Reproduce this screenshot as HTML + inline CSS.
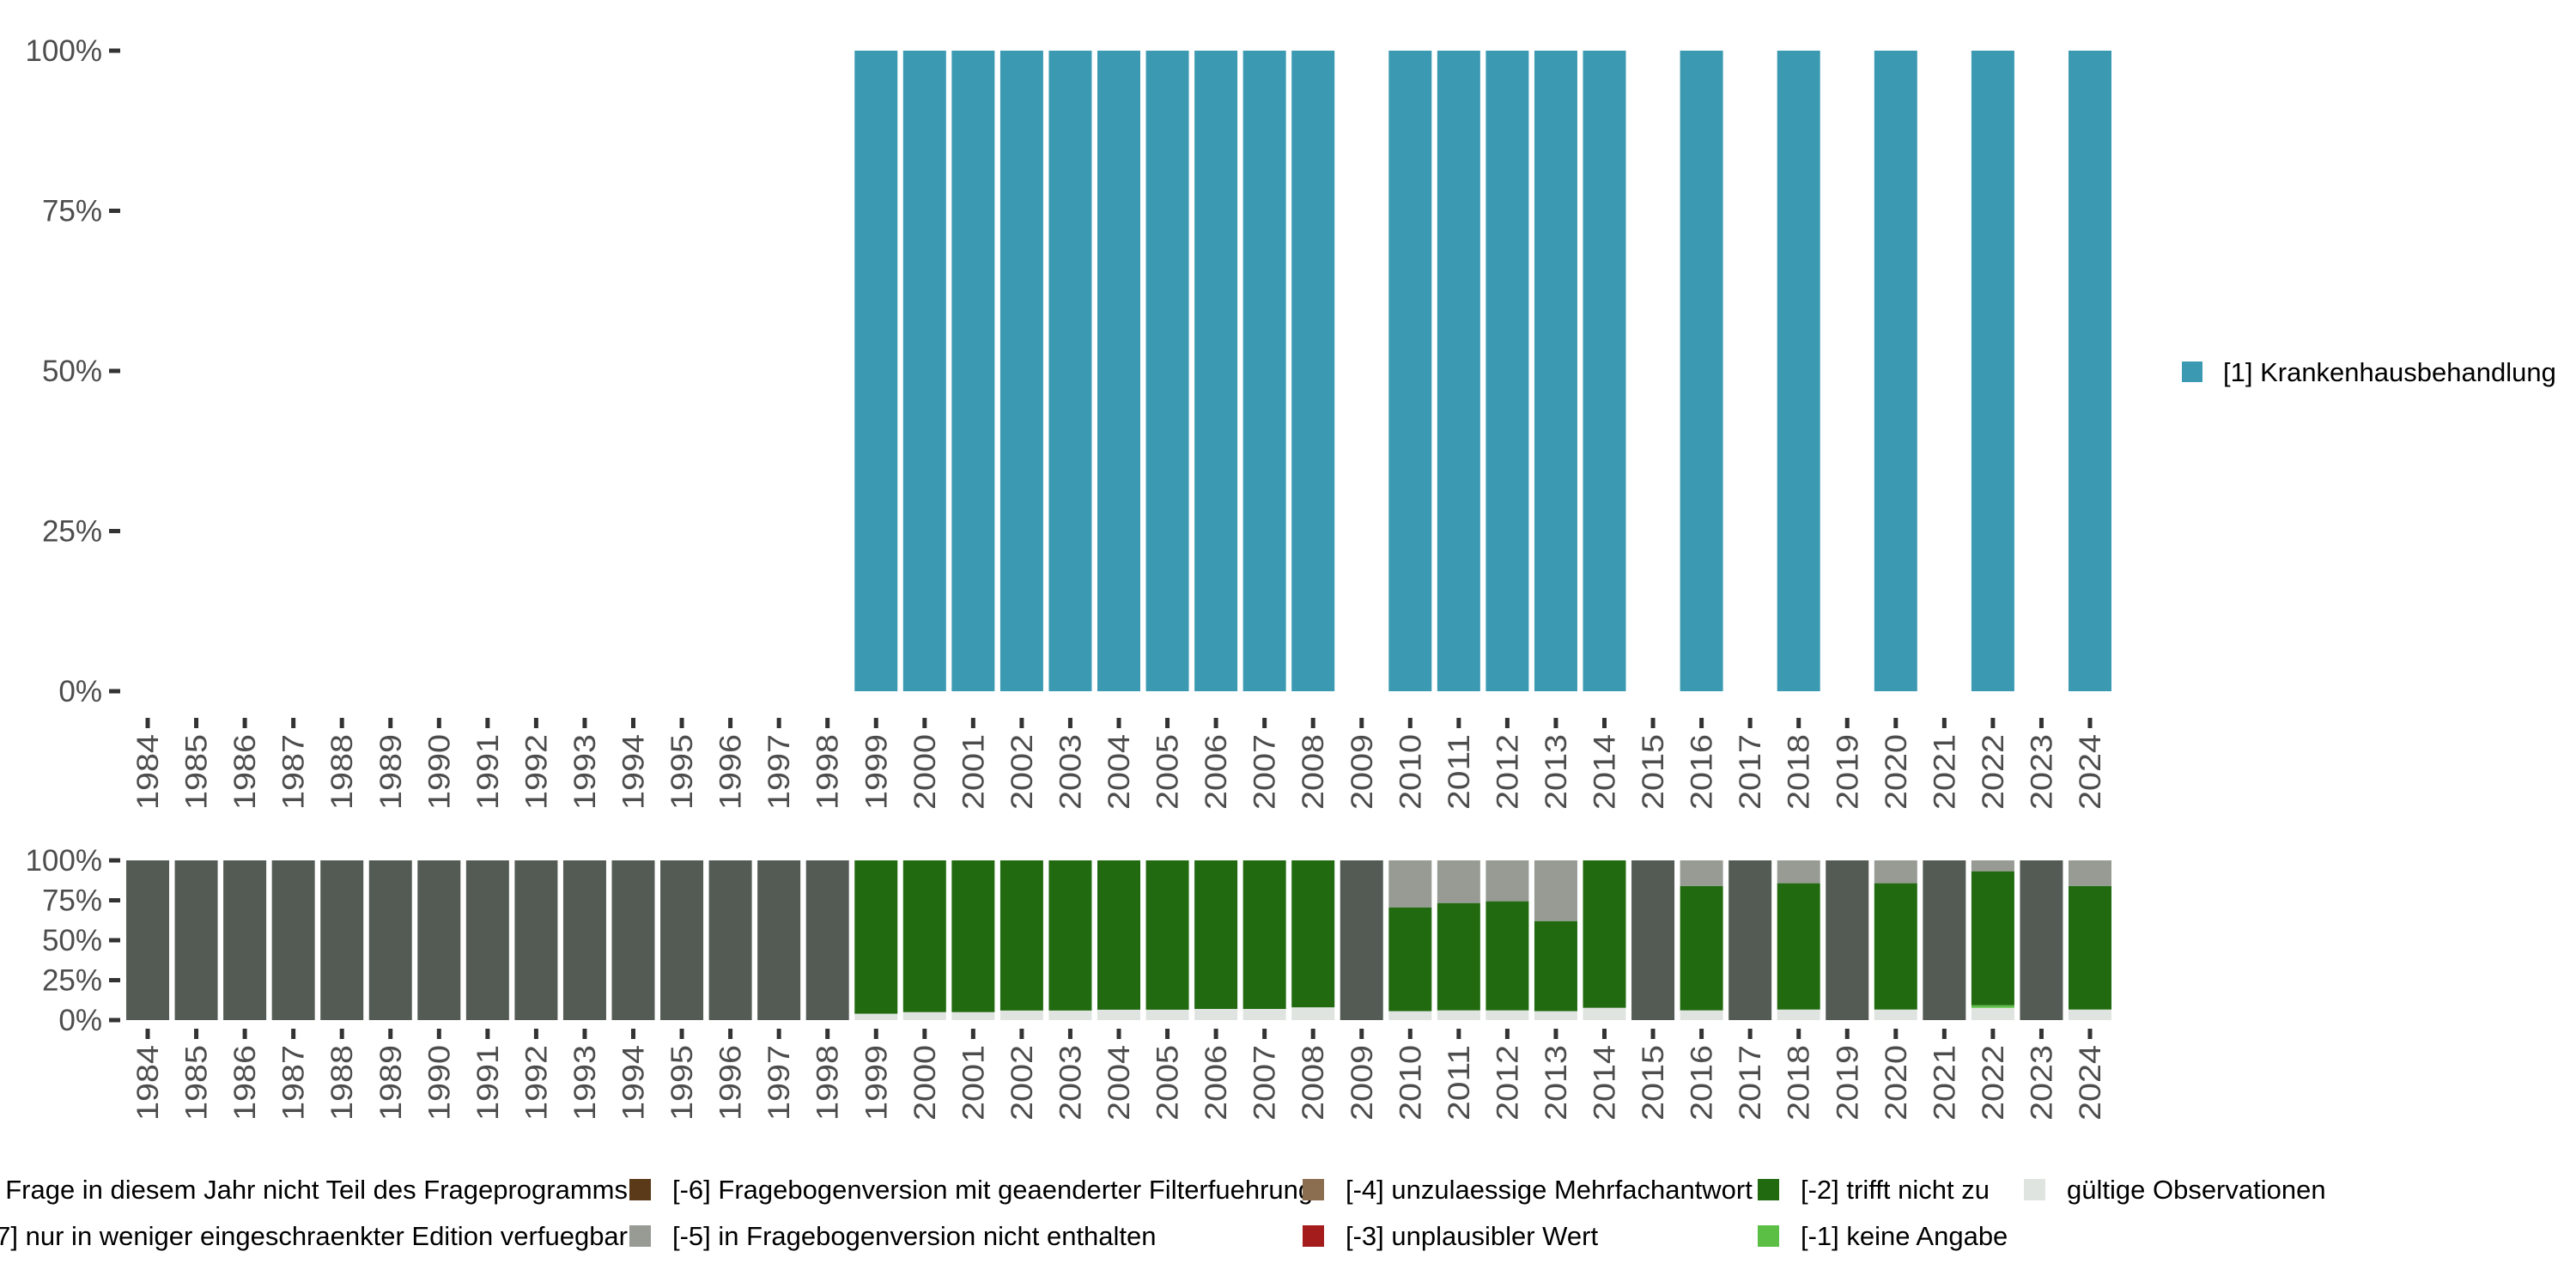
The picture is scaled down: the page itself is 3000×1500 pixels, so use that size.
<!DOCTYPE html>
<html><head><meta charset="utf-8"><style>
html,body{margin:0;padding:0;background:#fff;}
svg{display:block;font-family:"Liberation Sans",sans-serif;}
</style></head><body>
<svg id="c" width="3000" height="1500" viewBox="0 0 3000 1500"></svg>
<script>
const years=[];for(let y=1984;y<=2024;y++)years.push(y);
const topValues=[0,0,0,0,0,0,0,0,0,0,0,0,0,0,0,100,100,100,100,100,100,100,100,100,100,0,100,100,100,100,100,0,100,0,100,0,100,0,100,0,100];
const notInProgram=[100,100,100,100,100,100,100,100,100,100,100,100,100,100,100,0,0,0,0,0,0,0,0,0,0,100,0,0,0,0,0,100,0,100,0,100,0,100,0,100,0];
const validObs=[0,0,0,0,0,0,0,0,0,0,0,0,0,0,0,4,5,5,6,6,6.5,6.5,7,7,8,0,5.6,6.1,6.1,5.6,7.7,0,6.1,0,6.6,0,6.6,0,7.7,0,6.6];
const noAnswer=[0,0,0,0,0,0,0,0,0,0,0,0,0,0,0,0,0,0,0,0,0,0,0,0,0,0,0,0,0,0,0,0,0,0,0,0,0,0,1.6,0,0];
const notInVersion=[0,0,0,0,0,0,0,0,0,0,0,0,0,0,0,0,0,0,0,0,0,0,0,0,0,0,29.4,26.7,25.6,38,0,0,16,0,14.3,0,14.3,0,6.8,0,16];
const yTicks=[0,25,50,75,100];
const yTickLabels=["0%","25%","50%","75%","100%"];
const legendTop=["[1] Krankenhausbehandlung"];
const svg=document.getElementById('c');const NS='http://www.w3.org/2000/svg';
function mk(t,a,p){const e=document.createElementNS(NS,t);for(const k in a)e.setAttribute(k,a[k]);(p||svg).appendChild(e);return e;}
const pitch=56.55,bw=50;
const xc=i=>172+i*pitch;
const yT=v=>805-(v/100)*746;
const yB=v=>1188-(v/100)*186;
function axes(ys,tickY0,labY){
 yTicks.forEach((v,k)=>{
  const t=mk('text',{x:119,y:ys(v)+12,'text-anchor':'end','font-size':35,fill:'#4d4d4d'});
  
  
  t.textContent=yTickLabels[k];
  const l=mk('line',{x1:127,x2:140,y1:ys(v),y2:ys(v),stroke:'#333',"stroke-width":5});
  
  
 });
 years.forEach((yr,i)=>{
  const l=mk('line',{x1:xc(i),x2:xc(i),y1:tickY0,y2:tickY0+12,stroke:'#333',"stroke-width":5});
  
  
  const t=mk('text',{x:0,y:0,'text-anchor':'end','font-size':35,textLength:88,lengthAdjust:'spacingAndGlyphs',fill:'#4d4d4d',transform:`translate(${xc(i)+12},${labY}) rotate(-90)`});
  
  
  t.textContent=yr;
 });
}
years.forEach((yr,i)=>{if(topValues[i]>0){
 const r=mk('rect',{x:xc(i)-bw/2,y:yT(topValues[i]),width:bw,height:yT(0)-yT(topValues[i]),fill:'#3b9ab2'});
 
 
}});
axes(yT,836,855);
years.forEach((yr,i)=>{
 const segs=[[validObs[i],'#e0e4e0','valid'],[noAnswer[i],'#5bbf45','no-answer']];
 let green=100-notInProgram[i]-validObs[i]-noAnswer[i]-notInVersion[i];
 if(notInProgram[i]>=100)green=0;
 segs.push([green,'#216a10','not-applicable'],[notInVersion[i],'#979b94','not-in-version'],[notInProgram[i],'#545b55','not-in-program']);
 let acc=0;
 segs.forEach(s=>{if(s[0]>0){
  const r=mk('rect',{x:xc(i)-bw/2,y:yB(acc+s[0]),width:bw,height:yB(acc)-yB(acc+s[0]),fill:s[1]});
  
  
  acc+=s[0];}});
});
axes(yB,1198,1217);
const lr=mk('rect',{x:2541,y:421,width:24,height:24,fill:'#3b9ab2'});


const lt=mk('text',{x:2589,y:444,'font-size':31,fill:'#000'});


lt.textContent=legendTop[0];
const items=[
 [null,'#545b55','[-8] Frage in diesem Jahr nicht Teil des Frageprogramms',1385,'end',731],
 [null,'#545b55','[-7] nur in weniger eingeschraenkter Edition verfuegbar',1439,'end',731],
 [733,'#5b3a1a','[-6] Fragebogenversion mit geaenderter Filterfuehrung',1385],
 [733,'#979b94','[-5] in Fragebogenversion nicht enthalten',1439],
 [1517,'#8b6e50','[-4] unzulaessige Mehrfachantwort',1385],
 [1517,'#a51c1c','[-3] unplausibler Wert',1439],
 [2047,'#216a10','[-2] trifft nicht zu',1385],
 [2047,'#5bbf45','[-1] keine Angabe',1439],
 [2357,'#e0e4e0','gültige Observationen',1385]];
items.forEach(it=>{
 if(it[0]!==null){
  const r=mk('rect',{x:it[0],y:it[3]-12,width:25,height:25,fill:it[1]});
  
  
 }
 const tx=it[0]!==null?it[0]+50:it[5];
 const t=mk('text',{x:tx,y:it[3]+11,'font-size':31,fill:'#000','text-anchor':it[4]||'start'});
 
 
 t.textContent=it[2];
});
</script>
</body></html>
